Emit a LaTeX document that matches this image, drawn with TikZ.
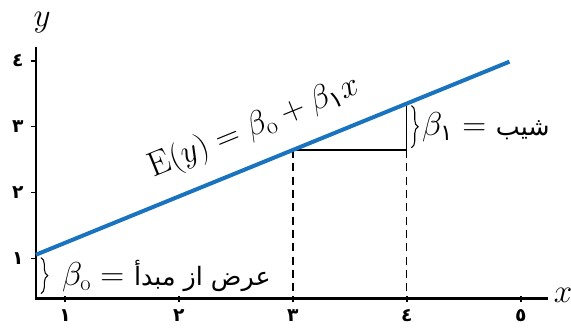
\documentclass[tikz,border=0pt]{standalone}
\usepackage{amsmath}
\usepackage{fontspec}
\usetikzlibrary{decorations.pathreplacing}
\newfontfamily\arabicfont[Script=Arabic]{DejaVu Sans}
\TeXXeTstate=1
\definecolor{lineblue}{RGB}{25,115,190}
\newcommand{\arsub}[1]{\text{\arabicfont #1}}

\begin{document}
\begin{tikzpicture}[x=85.5pt,y=49.5pt]
  \tikzset{axis line/.style={draw=black, line width=1.8pt},
    tick mark/.style={draw=black, line width=1.2pt},
    tick label/.style={font=\arabicfont\bfseries\fontsize{14}{16}\selectfont, inner sep=1pt},
    guide line/.style={draw=black, line width=0.9pt},
    brace line/.style={decorate, decoration={brace, amplitude=5pt}, line width=0.8pt},
    math label/.style={font=\fontsize{24}{28}\selectfont, inner sep=1pt}}
  \useasboundingbox (0.43,-0.09) rectangle (5.44,4.92);
  % axes
  \coordinate (origin) at (0.746,0.394);
  \coordinate (ytop) at (0.746,4.21);
  \coordinate (xend) at (5.24,0.394);
  \draw[axis line] (ytop) -- (origin) -- (xend);
  \node[math label] (ylabel) at (0.80,4.58) {$y$};
  \node[math label] (xlabel) at (5.37,0.44) {$x$};
  \foreach \i/\d in {1/١,2/٢,3/٣,4/٤} {
    \draw[tick mark] (0.70,\i) -- (0.746,\i);
    \node[tick label, anchor=east] (ytick\i) at (0.65,\i) {\d};
  }
  \foreach \i/\d in {1/١,2/٢,3/٣,4/٤,5/٥} {
    \draw[tick mark] (\i,0.34) -- (\i,0.44);
    \node[tick label, anchor=north] (xtick\i) at (\i,0.25) {\d};
  }
  % regression line
  \coordinate (linestart) at (0.746,1.06);
  \coordinate (lineend) at (4.90,3.985);
  \coordinate (pthree) at (3,2.647);
  \coordinate (pfour) at (4,3.351);
  \coordinate (foot) at (4,2.647);
  \draw[guide line] (pthree) -- (foot) -- (pfour);
  \draw[guide line, dash pattern=on 6pt off 4pt] (pthree) -- (pthree |- origin);
  \draw[guide line, dash pattern=on 6pt off 4pt] (foot) -- (foot |- origin);
  \draw[lineblue, line width=3pt] (linestart) -- (lineend);
  \node[math label, font=\fontsize{26}{30}\selectfont, rotate=22.2] (eqlabel) at (2.66,2.99)
    {$\mathrm{E}(y)=\beta_{\mathrm{o}}+\beta_{\arsub{١}}x$};
  % braces
  \coordinate (slopetop) at (4.04,3.32);
  \coordinate (slopebot) at (4.04,2.68);
  \draw[brace line] (slopetop) -- (slopebot);
  \node[math label, anchor=west] (slopelabel) at (4.12,2.99)
    {$\beta_{\arsub{١}} =$\ {\arabicfont\fontsize{19}{22}\selectfont\beginR شیب\endR}};
  \coordinate (intertop) at (0.79,1.015);
  \coordinate (interbot) at (0.79,0.47);
  \draw[brace line] (intertop) -- (interbot);
  \node[math label, anchor=west] (interlabel) at (0.96,0.74)
    {$\beta_{\mathrm{o}} =$\ {\arabicfont\fontsize{19}{22}\selectfont\beginR عرض از مبدأ\endR}};
\end{tikzpicture}
\end{document}
